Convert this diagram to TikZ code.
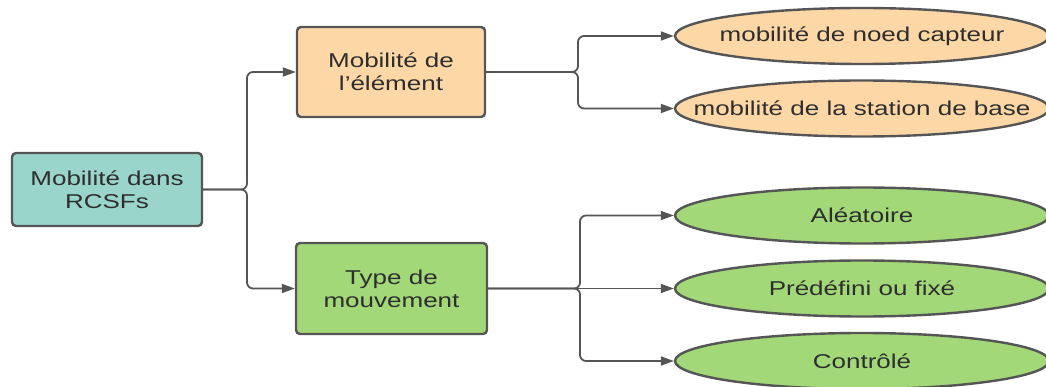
\documentclass[tikz,border=0pt]{standalone}
\usepackage{fontspec}
\setmainfont{Liberation Sans}[FakeStretch=1.3]
\usetikzlibrary{arrows.meta,shapes.geometric}
\definecolor{edgegray}{HTML}{555555}
\definecolor{txtgray}{HTML}{2E2E2E}
\definecolor{tealfill}{HTML}{9AD5CB}
\definecolor{orangefill}{HTML}{FDD7A6}
\definecolor{greenfill}{HTML}{A2D877}
% zero-width label so the oval keeps its fixed size
\newcommand{\ovaltext}[1]{\makebox[0pt]{#1}}
\tikzset{
  x=1pt, y=-1pt,
  every node/.style={font=\fontsize{20}{23}\selectfont, text=txtgray, align=center},
  box/.style={draw=edgegray, line width=2.4pt, rounded corners=4pt, inner sep=0pt},
  oval/.style={ellipse, draw=edgegray, line width=2.4pt, inner sep=0pt,
    minimum width=374pt, minimum height=56pt},
  link/.style={draw=edgegray, line width=1.8pt, rounded corners=6pt,
    -{Triangle[length=13pt,width=9pt]}},
}
\begin{document}
\begin{tikzpicture}
\useasboundingbox (0,0) rectangle (1046,387);
% root
\node[box, fill=tealfill, minimum width=190pt, minimum height=73pt] (root) at (107,189.5) {Mobilité dans\\RCSFs};
% second level
\node[box, fill=orangefill, minimum width=188pt, minimum height=90pt] (elem) at (391,72) {Mobilité de\\l{\char"27}élément};
\node[box, fill=greenfill, minimum width=191pt, minimum height=91pt] (type) at (391.5,288.5) {Type de\\mouvement};
% leaves
\node[oval, fill=orangefill] (capt) at (862,36) {\ovaltext{mobilité de noed capteur}};
\node[oval, fill=orangefill] (base) at (862,108.5) {\ovaltext{mobilité de la station de base}};
\node[oval, fill=greenfill] (alea) at (862,215.5) {\ovaltext{Aléatoire}};
\node[oval, fill=greenfill] (pred) at (862,288.5) {\ovaltext{Prédéfini ou fixé}};
\node[oval, fill=greenfill] (ctrl) at (862,361) {\ovaltext{Contrôlé}};
% connectors
\draw[link] (root.east) -- (247,189.5) -- (247,72) -- (elem.west);
\draw[link] (root.east) -- (247,189.5) -- (247,288.5) -- (type.west);
\draw[link] (elem.east) -- (578,72) -- (578,36) -- (capt.west);
\draw[link] (elem.east) -- (578,72) -- (578,108.5) -- (base.west);
\draw[link] (type.east) -- (580,288.5) -- (580,215.5) -- (alea.west);
\draw[link] (type.east) -- (pred.west);
\draw[link] (type.east) -- (580,288.5) -- (580,361) -- (ctrl.west);
\end{tikzpicture}
\end{document}
